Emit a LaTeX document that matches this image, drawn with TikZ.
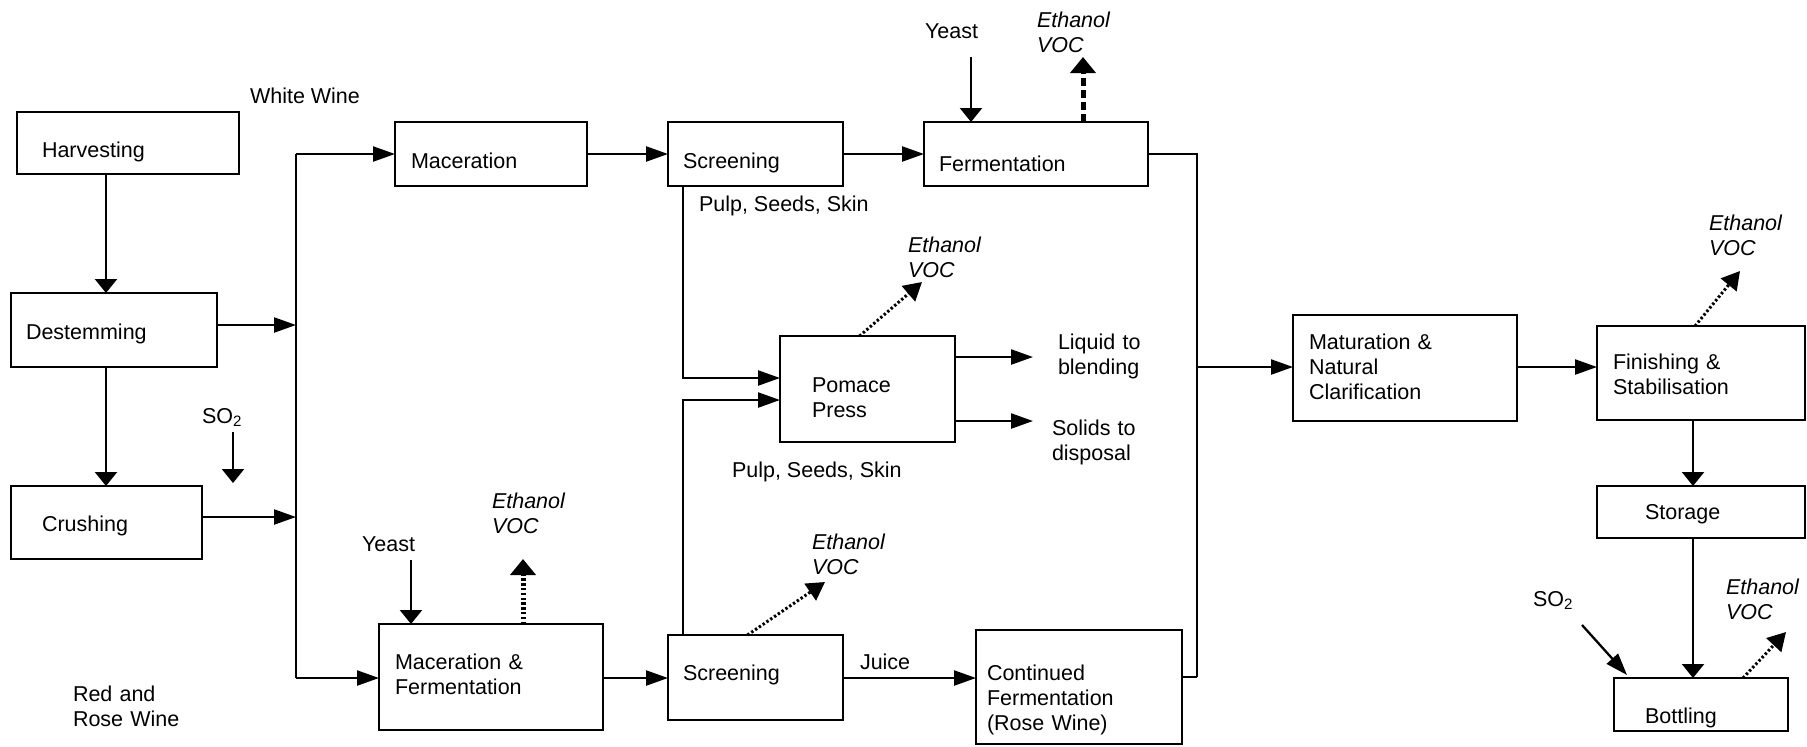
\documentclass[tikz,border=0pt]{standalone}
\usepackage{fontspec}
\setmainfont{Liberation Sans}
\usetikzlibrary{arrows.meta}
\newcommand\pbox[5]{%
  \pgfmathsetmacro\bw{(#4-#2)*0.5}\pgfmathsetmacro\bh{(#5-#3)*0.5}%
  \node[box,minimum width=\bw pt,minimum height=\bh pt] (#1) at ({(#2+#4)/2},{(#3+#5)/2}) {};}
\tikzset{
  box/.style={draw, line width=1.35pt, inner sep=0pt, outer sep=0pt},
  txt/.style={inner sep=0pt, outer sep=0pt, anchor=base west, font=\fontsize{10.75}{12.5}\selectfont},
  ml/.style={txt, text width=110pt, align=left},
  it/.style={ml, font=\fontsize{10.75}{12.5}\selectfont\itshape},
  ln/.style={line width=1.15pt},
  harr/.style={line width=1.15pt, -{Triangle[length=11pt,width=7.5pt]}},
  varr/.style={line width=1.15pt, -{Triangle[length=7pt,width=11pt]}},
  darr/.style={line width=1.5pt, dash pattern=on 1.2pt off 1.1pt, -{Triangle[length=9pt,width=10pt]}},
  thickdot/.style={line width=2.5pt, dash pattern=on 1.2pt off 1.2pt, -{Triangle[length=8pt,width=12.5pt]}},
  thickdash/.style={line width=2.5pt, dash pattern=on 4pt off 2pt, -{Triangle[length=8pt,width=12.5pt]}},
}
\begin{document}
\begin{tikzpicture}[x=0.5pt,y=-0.5pt]
\useasboundingbox (0,0) rectangle (1807,746);
% boxes
\pbox{harv}{17}{112}{239}{174}
\pbox{dest}{11}{293}{217}{367}
\pbox{crush}{11}{486}{202}{559}
\pbox{mac}{395}{122}{587}{186}
\pbox{scr}{668}{122}{843}{186}
\pbox{ferm}{924}{122}{1148}{186}
\pbox{pom}{780}{336}{955}{442}
\pbox{mf}{379}{624}{603}{730}
\pbox{scrb}{668}{635}{843}{720}
\pbox{cont}{976}{630}{1182}{744}
\pbox{mat}{1293}{315}{1517}{421}
\pbox{fin}{1597}{326}{1805}{420}
\pbox{stor}{1597}{486}{1805}{538}
\pbox{bott}{1614}{678}{1788}{731}
% texts
\node[txt] (t-white) at (250,103) {White Wine};
\node[txt] (t-harv) at (42,157) {Harvesting};
\node[txt] (t-dest) at (26,339) {Destemming};
\node[txt] (t-crush) at (42,531) {Crushing};
\node[txt] (t-so2a) at (202,423) {SO\textsubscript{2}};
\node[ml] (t-red) at (73,701) {Red and\\Rose Wine};
\node[txt] (t-mac) at (411,168) {Maceration};
\node[txt] (t-scr) at (683,168) {Screening};
\node[txt] (t-ferm) at (939,171) {Fermentation};
\node[txt] (t-yeast1) at (925,38) {Yeast};
\node[it] (t-voc1) at (1037,27) {Ethanol\\VOC};
\node[txt] (t-pulp1) at (699,211) {Pulp, Seeds, Skin};
\node[it] (t-voc2) at (908,252) {Ethanol\\VOC};
\node[ml] (t-pom) at (812,392) {Pomace\\Press};
\node[ml] (t-liq) at (1058,349) {Liquid to\\blending};
\node[ml] (t-sol) at (1052,435) {Solids to\\disposal};
\node[txt] (t-pulp2) at (732,477) {Pulp, Seeds, Skin};
\node[txt] (t-yeast2) at (362,551) {Yeast};
\node[it] (t-voc3) at (492,508) {Ethanol\\VOC};
\node[ml] (t-mf) at (395,669) {Maceration \&\\Fermentation};
\node[it] (t-voc4) at (812,549) {Ethanol\\VOC};
\node[txt] (t-scrb) at (683,680) {Screening};
\node[txt] (t-juice) at (860,669) {Juice};
\node[ml] (t-cont) at (987,680) {Continued\\Fermentation\\(Rose Wine)};
\node[ml] (t-mat) at (1309,349) {Maturation \&\\Natural\\Clarification};
\node[ml] (t-fin) at (1613,369) {Finishing \&\\Stabilisation};
\node[it] (t-voc5) at (1709,230) {Ethanol\\VOC};
\node[txt] (t-stor) at (1645,519) {Storage};
\node[txt] (t-so2b) at (1533,606) {SO\textsubscript{2}};
\node[it] (t-voc6) at (1726,594) {Ethanol\\VOC};
\node[txt] (t-bott) at (1645,723) {Bottling};
% coordinates
\coordinate (hx) at (106,0);
\coordinate (bustop) at (296,154);
\coordinate (busd) at (296,325);
\coordinate (busc) at (296,517);
\coordinate (busbot) at (296,678);
\coordinate (s1a) at (233,432);
\coordinate (s1) at (233,483);
\coordinate (y1) at (411,560);
\coordinate (v3) at (523,559);
\coordinate (y2) at (971,57);
\coordinate (v1) at (1083,57);
\coordinate (p1) at (683,378);
\coordinate (p2) at (683,400);
\coordinate (v2) at (922,282);
\coordinate (v4) at (825,582);
\coordinate (liq) at (1033,357);
\coordinate (sol) at (1033,421);
\coordinate (ctop) at (1197,154);
\coordinate (cmid) at (1197,367);
\coordinate (cbot) at (1197,677);
\coordinate (v5) at (1740,271);
\coordinate (sx) at (1693,0);
\coordinate (s2a) at (1582,625);
\coordinate (v6) at (1786,632);
% connectors
\draw[varr] (harv.south -| hx) -- (dest.north -| hx);
\draw[varr] (dest.south -| hx) -- (crush.north -| hx);
\draw[harr] (dest.east |- busd) -- (busd);
\draw[harr] (crush.east |- busc) -- (busc);
\draw[varr] (s1a) -- (s1);
\draw[ln] (bustop) -- (busbot);
\draw[harr] (bustop) -- (mac.west);
\draw[harr] (busbot) -- (mf.west |- busbot);
\draw[harr] (mac.east) -- (scr.west);
\draw[harr] (scr.east) -- (ferm.west);
\draw[varr] (y2) -- (ferm.north -| y2);
\draw[thickdash] (ferm.north -| v1) -- (v1);
\draw[ln] (ferm.east) -- (ctop) -- (cbot);
\draw[harr] (scr.south -| p1) -- (p1) -- (pom.west |- p1);
\draw[harr] (scrb.north -| p2) -- (p2) -- (pom.west |- p2);
\draw[darr] ([xshift=-4pt]pom.north) -- (v2);
\draw[harr] (pom.east |- liq) -- (liq);
\draw[harr] (pom.east |- sol) -- (sol);
\draw[varr] (y1) -- (mf.north -| y1);
\draw[thickdot] (mf.north -| v3) -- (v3);
\draw[harr] (mf.east |- busbot) -- (scrb.west |- busbot);
\draw[darr] ([xshift=-4pt]scrb.north) -- (v4);
\draw[harr] (scrb.east |- busbot) -- (cont.west |- busbot);
\draw[ln] (cont.east |- cbot) -- (cbot);
\draw[harr] (cmid) -- (mat.west |- cmid);
\draw[harr] (mat.east |- cmid) -- (fin.west |- cmid);
\draw[darr] ([xshift=-3pt]fin.north) -- (v5);
\draw[varr] (fin.south -| sx) -- (stor.north -| sx);
\draw[varr] (stor.south -| sx) -- (bott.north -| sx);
\draw[harr] (s2a) -- ([shift={(13,-3)}]bott.north west);
\draw[darr] ([xshift=21pt]bott.north) -- (v6);
\end{tikzpicture}
\end{document}
